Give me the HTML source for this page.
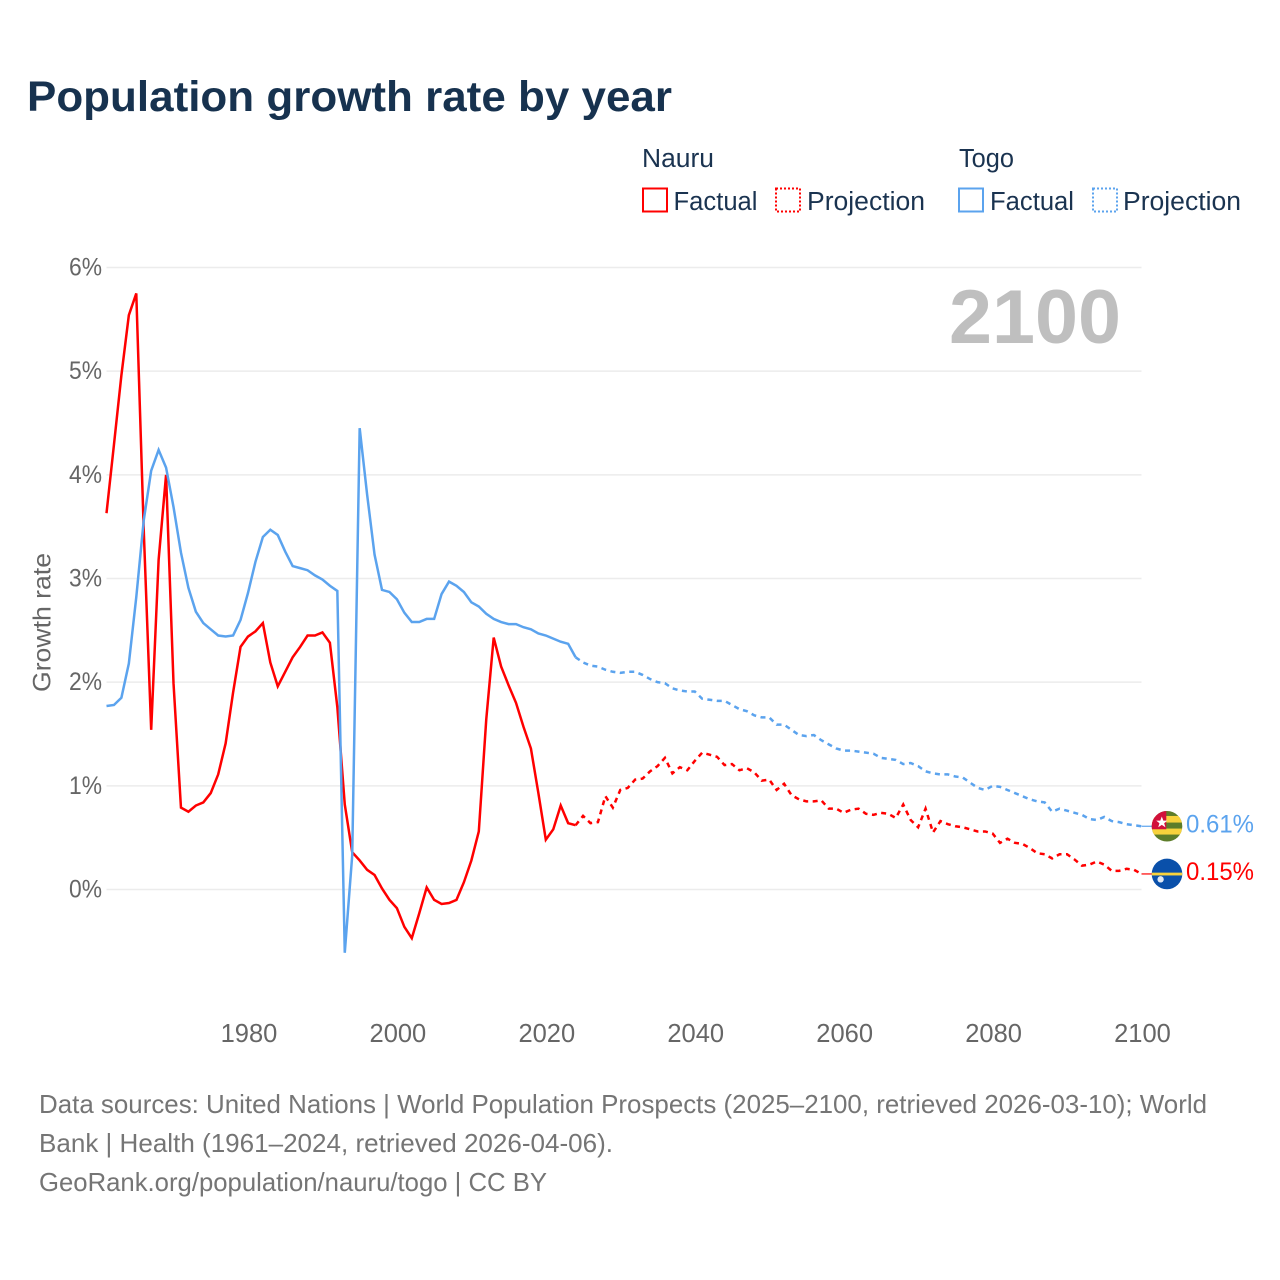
<!DOCTYPE html>
<html lang="en">
<head>
<meta charset="utf-8">
<title>Population growth rate by year</title>
<style>
  html, body { margin: 0; padding: 0; background: #fff; }
  svg { display: block; font-family: "Liberation Sans", sans-serif; }
</style>
</head>
<body>
<svg id="chart" xmlns="http://www.w3.org/2000/svg" width="1280" height="1280" viewBox="0 0 1280 1280">
  <defs>
    <clipPath id="togo-clip"><circle cx="0" cy="0" r="15.3"></circle></clipPath>
    <clipPath id="nauru-clip"><circle cx="0" cy="0" r="15.3"></circle></clipPath>
  </defs>
  <rect x="0" y="0" width="1280" height="1280" fill="#fff"></rect>

  <text x="27" y="111" font-size="43" font-weight="700" fill="#17324f" textLength="645" lengthAdjust="spacingAndGlyphs">Population growth rate by year</text>

  <g font-size="25.5" fill="#1a3350">
    <text x="642" y="167" textLength="72" lengthAdjust="spacingAndGlyphs">Nauru</text>
    <rect x="643" y="188.5" width="24" height="23" fill="none" stroke="#ff0000" stroke-width="2"></rect>
    <text x="673.5" y="210" textLength="84" lengthAdjust="spacingAndGlyphs">Factual</text>
    <rect x="776" y="188.5" width="24" height="23" fill="none" stroke="#ff0000" stroke-width="2" stroke-dasharray="2 2"></rect>
    <text x="807" y="210" textLength="118" lengthAdjust="spacingAndGlyphs">Projection</text>
    <text x="959" y="167" textLength="55" lengthAdjust="spacingAndGlyphs">Togo</text>
    <rect x="959" y="188.5" width="24" height="23" fill="none" stroke="#5ba3ee" stroke-width="2"></rect>
    <text x="990" y="210" textLength="84" lengthAdjust="spacingAndGlyphs">Factual</text>
    <rect x="1093" y="188.5" width="24" height="23" fill="none" stroke="#5ba3ee" stroke-width="2" stroke-dasharray="2 2"></rect>
    <text x="1123" y="210" textLength="118" lengthAdjust="spacingAndGlyphs">Projection</text>
  </g>

  <g id="grid"></g>
  <g id="y-ticks"></g>
  <g id="x-ticks"></g>

  <text transform="translate(50.5,622.5) rotate(-90)" text-anchor="middle" font-size="25" fill="#666666" textLength="139" lengthAdjust="spacingAndGlyphs">Growth rate</text>

  <text x="949" y="343" font-size="76" font-weight="700" fill="#bfbfbf" textLength="172" lengthAdjust="spacingAndGlyphs">2100</text>

  <g id="series"></g>

  <g id="flag-togo">
    <g clip-path="url(#togo-clip)">
      <rect x="-16" y="-16" width="32" height="32" fill="#5d7d2a"></rect>
      <rect x="-16" y="-10.3" width="32" height="6.6" fill="#f7d23c"></rect>
      <rect x="-16" y="2.3" width="32" height="6" fill="#f7d23c"></rect>
      <rect x="-16" y="-16" width="15.3" height="19" fill="#d2103a"></rect>
      <polygon points="-8,-7.5 -6.3,-2.9 -1.8,-2.9 -5.4,0 -4,4.4 -8,1.8 -12,4.4 -10.6,0 -14.2,-2.9 -9.7,-2.9" fill="#fff" transform="translate(2,-3) scale(0.9)"></polygon>
    </g>
  </g>
  <g id="flag-nauru">
    <g clip-path="url(#nauru-clip)">
      <rect x="-16" y="-16" width="32" height="32" fill="#0a50aa"></rect>
      <rect x="-16" y="-1.3" width="32" height="2.8" fill="#f7d23c"></rect>
      <circle cx="-6.4" cy="5.4" r="3.2" fill="#dfe8f4"></circle>
    </g>
  </g>
  <text id="label-togo" x="1186" font-size="25" fill="#5ba3ee" textLength="68" lengthAdjust="spacingAndGlyphs"></text>
  <text id="label-nauru" x="1186" font-size="25" fill="#ff0000" textLength="68" lengthAdjust="spacingAndGlyphs"></text>

  <g font-size="26" fill="#757575">
    <text x="39" y="1113" textLength="1168" lengthAdjust="spacingAndGlyphs">Data sources: United Nations | World Population Prospects (2025–2100, retrieved 2026-03-10); World</text>
    <text x="39" y="1152" textLength="574" lengthAdjust="spacingAndGlyphs">Bank | Health (1961–2024, retrieved 2026-04-06).</text>
    <text x="39" y="1191" textLength="508" lengthAdjust="spacingAndGlyphs">GeoRank.org/population/nauru/togo | CC BY</text>
  </g>
</svg>
<script>
const factualStartYear = 1961;
const projectionStartYear = 2025;
const xTickYears = [1980, 2000, 2020, 2040, 2060, 2080, 2100];
const yTickValues = [0, 1, 2, 3, 4, 5, 6];

const nauruFactual = [3.63,4.29,4.96,5.54,5.75,3.47,1.54,3.18,4.00,1.99,0.79,0.75,0.81,0.84,0.93,1.11,1.41,1.90,2.34,2.44,2.49,2.57,2.19,1.96,2.10,2.24,2.34,2.45,2.45,2.48,2.38,1.76,0.82,0.36,0.28,0.19,0.14,0.01,-0.10,-0.18,-0.36,-0.47,-0.23,0.02,-0.10,-0.14,-0.13,-0.10,0.07,0.28,0.56,1.64,2.43,2.15,1.97,1.80,1.57,1.36,0.93,0.48,0.58,0.81,0.64,0.62];
const nauruProjection = [0.71,0.64,0.65,0.90,0.79,0.96,0.98,1.06,1.07,1.14,1.19,1.27,1.12,1.18,1.15,1.24,1.32,1.30,1.28,1.20,1.21,1.15,1.17,1.13,1.05,1.06,0.96,1.02,0.91,0.87,0.85,0.85,0.86,0.78,0.78,0.74,0.77,0.78,0.73,0.72,0.74,0.73,0.69,0.82,0.67,0.60,0.78,0.55,0.66,0.63,0.61,0.60,0.58,0.56,0.56,0.54,0.45,0.49,0.45,0.44,0.40,0.35,0.34,0.30,0.34,0.34,0.29,0.23,0.24,0.27,0.24,0.18,0.18,0.20,0.19,0.15];
const togoFactual = [1.77,1.78,1.85,2.18,2.82,3.56,4.04,4.24,4.07,3.69,3.25,2.91,2.68,2.57,2.51,2.45,2.44,2.45,2.60,2.86,3.16,3.40,3.47,3.42,3.26,3.12,3.10,3.08,3.03,2.99,2.93,2.88,-0.61,0.33,4.45,3.81,3.23,2.89,2.87,2.80,2.67,2.58,2.58,2.61,2.61,2.85,2.97,2.93,2.87,2.77,2.73,2.66,2.61,2.58,2.56,2.56,2.53,2.51,2.47,2.45,2.42,2.39,2.37,2.24];
const togoProjection = [2.19,2.16,2.15,2.12,2.10,2.09,2.10,2.10,2.07,2.03,2.00,1.99,1.94,1.92,1.91,1.91,1.84,1.83,1.82,1.82,1.78,1.74,1.72,1.68,1.66,1.66,1.59,1.59,1.54,1.49,1.48,1.49,1.44,1.40,1.36,1.34,1.34,1.33,1.32,1.31,1.27,1.26,1.25,1.21,1.22,1.19,1.14,1.12,1.11,1.11,1.09,1.08,1.03,0.98,0.96,1.00,0.99,0.96,0.93,0.90,0.87,0.85,0.84,0.75,0.78,0.76,0.74,0.72,0.68,0.67,0.70,0.66,0.65,0.63,0.62,0.61];

const NS = 'http://www.w3.org/2000/svg';
function xScale(year) { return 106.5 + (year - 1961) * (1141.5 - 106.5) / 139; }
function yScale(value) { return 889.5 - value * (889.5 - 267.5) / 6; }

function pointsFrom(startYear, values) {
  return values.map(function (v, i) {
    return xScale(startYear + i).toFixed(2) + ',' + yScale(v).toFixed(2);
  }).join(' ');
}

const gridLayer = document.getElementById('grid');
const yTickLayer = document.getElementById('y-ticks');
yTickValues.forEach(function (v) {
  const line = document.createElementNS(NS, 'line');
  
  
  line.setAttribute('x1', 106.5);
  line.setAttribute('x2', 1141.5);
  line.setAttribute('y1', yScale(v));
  line.setAttribute('y2', yScale(v));
  line.setAttribute('stroke', '#ececec');
  line.setAttribute('stroke-width', '1.5');
  gridLayer.appendChild(line);
  const label = document.createElementNS(NS, 'text');
  
  
  label.setAttribute('x', 69);
  label.setAttribute('y', yScale(v) + 8);
  label.setAttribute('font-size', '25');
  label.setAttribute('fill', '#666666');
  label.setAttribute('textLength', '33');
  label.setAttribute('lengthAdjust', 'spacingAndGlyphs');
  label.textContent = v + '%';
  yTickLayer.appendChild(label);
});

const xTickLayer = document.getElementById('x-ticks');
xTickYears.forEach(function (year) {
  const label = document.createElementNS(NS, 'text');
  
  
  label.setAttribute('x', xScale(year) + 1);
  label.setAttribute('y', 1042);
  label.setAttribute('text-anchor', 'middle');
  label.setAttribute('font-size', '25.5');
  label.setAttribute('fill', '#666666');
  label.textContent = year;
  xTickLayer.appendChild(label);
});

const seriesLayer = document.getElementById('series');
function drawLine(points, color, dashed, name) {
  const line = document.createElementNS(NS, 'polyline');
  
  
  line.setAttribute('points', points);
  line.setAttribute('fill', 'none');
  line.setAttribute('stroke', color);
  line.setAttribute('stroke-width', '2.5');
  line.setAttribute('stroke-linejoin', 'miter');
  if (dashed) { line.setAttribute('stroke-dasharray', '5 4.5'); }
  seriesLayer.appendChild(line);
}
function drawSeries(factual, projection, color, prefix) {
  drawLine(pointsFrom(factualStartYear, factual), color, false, prefix + '-factual-line');
  const joined = [factual[factual.length - 1]].concat(projection);
  drawLine(pointsFrom(projectionStartYear - 1, joined), color, true, prefix + '-projection-line');
}
drawSeries(nauruFactual, nauruProjection, '#ff0000', 'nauru');
drawSeries(togoFactual, togoProjection, '#5ba3ee', 'togo');

function drawEnd(projection, color, flagId, labelId, prefix) {
  const last = projection[projection.length - 1];
  const y = yScale(last);
  const lead = document.createElementNS(NS, 'line');
  
  
  lead.setAttribute('x1', 1141.5);
  lead.setAttribute('x2', 1152);
  lead.setAttribute('y1', y);
  lead.setAttribute('y2', y);
  lead.setAttribute('stroke', color);
  lead.setAttribute('stroke-width', '1.2');
  seriesLayer.appendChild(lead);
  document.getElementById(flagId).setAttribute('transform', 'translate(1167,' + y.toFixed(2) + ')');
  const label = document.getElementById(labelId);
  label.setAttribute('y', (y + 6).toFixed(2));
  label.textContent = last.toFixed(2) + '%';
}
drawEnd(togoProjection, '#5ba3ee', 'flag-togo', 'label-togo', 'togo');
drawEnd(nauruProjection, '#ff0000', 'flag-nauru', 'label-nauru', 'nauru');
</script>
</body>
</html>
